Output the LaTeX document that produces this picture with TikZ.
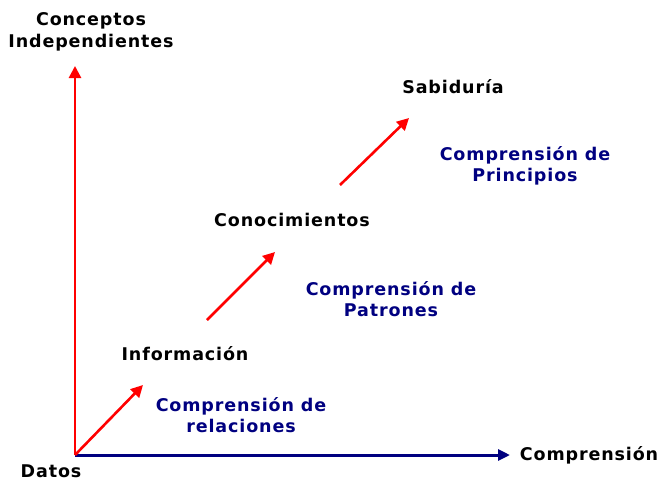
\documentclass[tikz,border=0pt]{standalone}
\usepackage{fontspec}
\setmainfont{DejaVu Sans}[LetterSpace=5]
\usetikzlibrary{arrows.meta}
\definecolor{navyc}{RGB}{0,0,128}
\begin{document}
\begin{tikzpicture}[x=1pt,y=-1pt,
  lbl/.style={font=\bfseries\fontsize{17.5}{21.5}\selectfont, text=black, align=center, inner sep=0pt},
  blbl/.style={lbl, text=navyc},
  redarr/.style={draw=red, line width=2.6pt, -{Triangle[length=12pt,width=12pt]}},
  navyarr/.style={draw=navyc, line width=3pt, -{Triangle[length=12pt,width=11pt]}}]
\useasboundingbox (0,0) rectangle (660,482);
% axes
\coordinate (O) at (75,455);
\coordinate (ytop) at (75,66);
\coordinate (xend) at (510,455);
\draw[navyarr] (O) -- (xend);
\draw[redarr] (O) -- (ytop);
% labels
\node[lbl] (ylab) at (91,32) {Conceptos\\Independientes};
\node[lbl] (datos) at (51,471) {Datos};
\node[lbl] (xlab) at (589,455) {Comprensión};
\node[lbl] (info) at (185,354) {Información};
\node[lbl] (cono) at (292,220) {Conocimientos};
\node[lbl] (sabi) at (453,87) {Sabiduría};
\node[blbl] (rel) at (241,415) {Comprensión de\\relaciones};
\node[blbl] (pat) at (391,299) {Comprensión de\\Patrones};
\node[blbl] (pri) at (525,166) {Comprensión de\\Principios};
% step arrows
\coordinate (a1s) at (75,455);
\coordinate (a1e) at (143,385);
\coordinate (a2s) at (207,320);
\coordinate (a2e) at (275,252);
\coordinate (a3s) at (340,185);
\coordinate (a3e) at (409,118);
\draw[redarr] (a1s) -- (a1e);
\draw[redarr] (a2s) -- (a2e);
\draw[redarr] (a3s) -- (a3e);
\end{tikzpicture}
\end{document}
